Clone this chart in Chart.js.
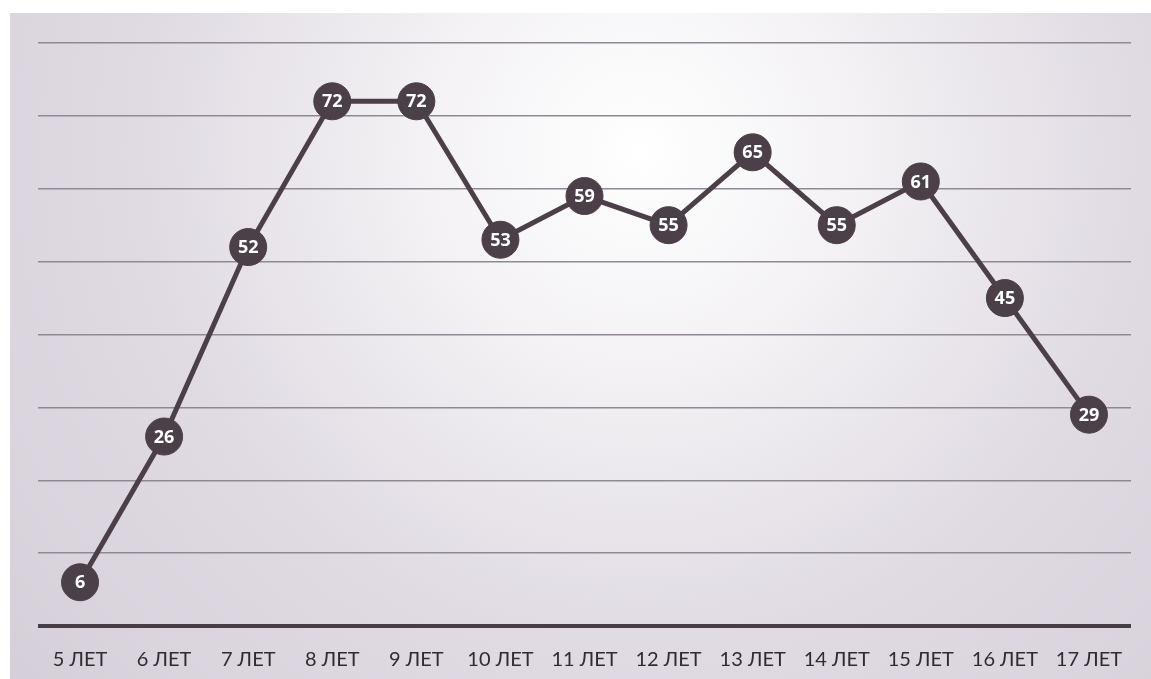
<!DOCTYPE html>
<html><head><meta charset="utf-8">
<script src="https://cdn.jsdelivr.net/npm/chart.js@4"></script>
<style>html,body{margin:0;padding:0;background:#fff;}#wrap{width:1151px;height:679px;}</style>
</head><body><div id="wrap"><canvas id="c" width="1151" height="679"></canvas></div>
<script>
const categories = ["5 ЛЕТ","6 ЛЕТ","7 ЛЕТ","8 ЛЕТ","9 ЛЕТ","10 ЛЕТ","11 ЛЕТ","12 ЛЕТ","13 ЛЕТ","14 ЛЕТ","15 ЛЕТ","16 ЛЕТ","17 ЛЕТ"];
const values = [6,26,52,72,72,53,59,55,65,55,61,45,29];
const yMin = 0, yMax = 80, yStep = 10;

const bgPlugin = {
  id:'bg',
  beforeDraw(chart){
    const ctx = chart.ctx;
    ctx.save();
    ctx.fillStyle = '#ffffff';
    ctx.fillRect(0,0,chart.width,chart.height);
    const g = ctx.createRadialGradient(640,150,0,640,150,900);
    g.addColorStop(0,'#ffffff');
    g.addColorStop(0.25,'#f3f1f4');
    g.addColorStop(0.55,'#e0dbe3');
    g.addColorStop(1,'#d2ccd6');
    ctx.fillStyle = g;
    ctx.fillRect(10,13,chart.width-10,chart.height-13);
    ctx.restore();
  }
};
const labelPlugin = {
  id:'lbl',
  afterDatasetsDraw(chart){
    const ctx = chart.ctx;
    const meta = chart.getDatasetMeta(0);
    ctx.save();
    ctx.fillStyle = '#ffffff';
    ctx.font = 'bold 18px "Open Sans", Lato, sans-serif';
    ctx.textAlign = 'center';
    ctx.textBaseline = 'middle';
    meta.data.forEach((pt,i)=>{
      ctx.fillText(String(chart.data.datasets[0].data[i]), pt.x, pt.y+1);
    });
    ctx.restore();
  }
};
new Chart(document.getElementById('c'),{
  type:'line',
  data:{labels:categories,datasets:[{
    data:values,
    borderColor:'#4b3f48',
    borderWidth:5,
    pointRadius:18.5,
    pointHoverRadius:18.5,
    pointBackgroundColor:'#4b3f48',
    pointBorderColor:'#4b3f48',
    pointBorderWidth:1,
    tension:0,
    clip:false
  }]},
  options:{
    responsive:false,
    animation:false,
    events:[],
    layout:{autoPadding:false,padding:{left:38,right:20,top:43,bottom:-15}},
    plugins:{legend:{display:false},tooltip:{enabled:false}},
    scales:{
      x:{
        offset:true,
        grid:{display:false,drawTicks:false},
        border:{display:false},
        ticks:{color:'#2f2c31',font:{family:'Lato, "Open Sans", sans-serif',size:20},padding:22,maxRotation:0,autoSkip:false}
      },
      y:{
        min:yMin,max:yMax,
        ticks:{display:false,stepSize:yStep},
        border:{display:false},
        grid:{
          drawTicks:false,
          color:(c)=> c.tick && c.tick.value===0 ? '#463e44' : '#8f8993',
          lineWidth:(c)=> c.tick && c.tick.value===0 ? 4 : 1.5
        }
      }
    }
  },
  plugins:[bgPlugin,labelPlugin]
});
</script></body></html>
